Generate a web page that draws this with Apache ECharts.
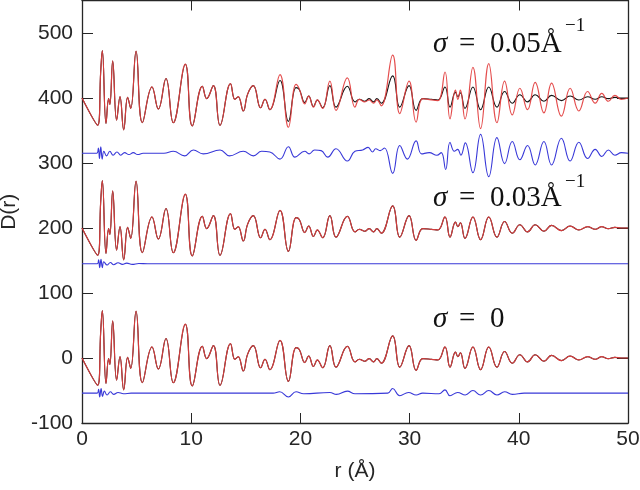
<!DOCTYPE html>
<html>
<head>
<meta charset="utf-8">
<script src="https://cdn.jsdelivr.net/npm/echarts@6/dist/echarts.min.js"></script>
<style>
html,body{margin:0;padding:0;background:#fff}
#chart{width:640px;height:490px}
</style>
</head>
<body>
<div id="chart"></div>
<script>
// turning points of the measured D(r), r in Angstrom
var rPts = [0, 1.44, 1.71, 1.86, 2.20, 2.44, 2.55, 2.81, 3.17, 3.48, 3.82, 4.18, 4.46, 4.95, 5.53, 6.41, 6.99, 7.69, 8.36, 9.46,
  10.10, 11.02, 11.42, 12.03, 12.64, 13.60, 14.00, 14.30, 14.77, 15.17, 15.69, 16.36, 16.76, 17.20, 18.13, 18.90, 19.60, 19.90,
  20.40, 20.76, 21.20, 21.55, 22.04, 22.70, 23.26, 24.30, 25.00, 25.40, 25.90, 26.30, 26.70, 27.00, 27.40, 28.45, 29.10, 29.95,
  30.60, 31.20, 32.00, 32.60, 33.24, 33.70, 34.20, 34.42, 34.65, 35.07, 35.80, 36.50, 37.25, 38.00, 38.70, 39.40,
  40.10, 40.80, 41.50, 42.30, 43.00, 43.90, 44.70, 45.50, 46.30, 47.00, 47.60, 48.20, 48.80, 49.40, 50.00];
// measured D(r) (black), relative to the offset of each panel
var dataD = [0, -42, 40, 73, -39, -1, -10, 57, -34, 2, -49, 1, -16, 72, -38, 17, -17, 30, -38, 52,
  -43, 18, -1, 19, -42, 22, -2, 2, -20, 6, 19, -15, -2, -18, 27, -36, 16, 13,
  -7, 3, -13, -3, -15, 19, -14, 18, -6, -2, -5, -1, -6, -1, -8, 34, -14, 19,
  -19, -1, -2, -3, 17, -14, 9, 2, 8, -16, 17, -18, 17, -14, 10, -8,
  5, -6, 5, -5, 4, -4, 3, -3, 2, -2, 2, -1, 1, 0, 0];
// fitted D(r) for sigma = 0.05 (red, top panel)
var fit05 = [0, -42, 40, 73, -39, -1, -10, 57, -34, 2, -49, 1, -16, 72, -38, 17, -17, 30, -38, 52,
  -43, 18, -1, 19, -42, 22, -2, 2, -20, 6, 19, -15, -2, -18, 36, -45, 21, 14,
  -9, 3, -14, -3, -16, 26, -19, 31, -14, -2, -6, -3, -8, -3, -12, 66, -24, 26,
  -37, -1, -3, -4, 40, -32, 12, -2, 12, -32, 47, -47, 53, -38, 26, -26,
  15, -18, 24, -23, 23, -28, 15, -20, 10, -8, 7, -5, 4, -2, 0];

// differences (blue)
var rDiff05 = [0, 1.35, 1.50, 1.60, 1.72, 1.85, 2.00, 2.25, 2.55, 2.85, 3.20, 3.55, 3.90, 4.30, 4.70, 5.10, 5.60, 7.50, 8.36, 9.40,
  10.20, 11.10, 12.64, 13.50, 14.77, 15.70, 16.45, 17.20, 18.13, 18.90, 19.50, 20.40, 20.80, 21.30, 21.90, 22.50, 23.26, 24.30,
  25.00, 25.70, 26.20, 26.60, 26.90, 27.30, 27.70, 28.45, 29.10, 29.80, 30.60, 31.10, 31.80, 32.50, 32.90, 33.30, 33.70, 34.10,
  34.40, 34.70, 35.10, 35.80, 36.50, 37.25, 38.00, 38.70, 39.40, 40.10, 40.80, 41.50, 42.30, 43.00, 43.90, 44.70, 45.50, 46.30,
  47.00, 47.60, 48.20, 48.80, 49.40, 50.00];
var diff05 = [315, 315, 323, 307, 325, 306, 318, 311, 318, 312, 317, 312, 316, 313, 316, 313, 315, 315, 318, 311,
  320, 314, 320, 311, 318, 311, 318, 317, 306, 325, 309, 318, 314, 320, 319, 309, 322, 303,
  318, 320, 324, 317, 322, 319, 323, 284, 327, 306, 334, 314, 316, 312, 316, 290, 332, 318,
  321, 312, 331, 285, 344, 279, 339, 299, 333, 305, 327, 297, 333, 297, 338, 303, 332, 307,
  321, 310, 320, 312, 316, 315];
var rDiff03 = [0, 1.40, 1.52, 1.62, 1.74, 1.86, 2.00, 2.30, 2.60, 2.90, 3.30, 3.70, 4.10, 4.60, 5.20, 6.00, 50.00];
var diff03 = [145, 145, 151, 139, 152, 139, 148, 143, 147, 143.5, 146.5, 144, 146, 144, 145.5, 145, 145];
var rDiff0 = [0, 1.40, 1.52, 1.62, 1.75, 1.88, 2.05, 2.30, 2.60, 2.90, 3.30, 3.80, 4.50, 17.50, 18.10, 18.90, 19.60, 20.30,
  22.70, 23.30, 24.30, 25.00, 28.00, 28.45, 29.10, 29.90, 30.60, 31.20, 32.70, 33.24, 33.70, 34.40, 35.10, 35.80, 36.50, 37.25,
  38.00, 38.70, 39.40, 40.50, 50.00];
var diff0 = [-54, -54, -48, -60, -47, -59, -51, -57, -52, -56, -53, -55, -54, -54, -52, -60, -52, -55,
  -53, -56, -51, -55, -54, -47, -58, -53, -57, -54, -55, -49, -58, -53, -57, -50, -57, -50,
  -57, -52, -56, -54, -54];

var offsets = [400, 200, 0];
var sigmaText = ['0.05Å', '0.03Å', '0'];

function pts(xs, ys, off) {
  return xs.map(function (x, i) { return [x, ys[i] + off]; });
}

var chart = echarts.init(document.getElementById('chart'));

var fits = [fit05, dataD, dataD];
var diffs = [[rDiff05, diff05], [rDiff03, diff03], [rDiff0, diff0]];
var series = [];
offsets.forEach(function (off, g) {
  series.push({ type: 'line', data: pts(rPts, dataD, off), showSymbol: false, smooth: 0.45, silent: true,
    lineStyle: { color: '#111', width: 1.1 } });
  series.push({ type: 'line', data: pts(rPts, fits[g], off), showSymbol: false, smooth: 0.45, silent: true,
    lineStyle: { color: '#e2403f', width: 1.2, opacity: 0.93 } });
  series.push({ type: 'line', data: pts(diffs[g][0], diffs[g][1], 0), showSymbol: false, smooth: 0.45, silent: true,
    lineStyle: { color: '#3838d8', width: 1.1 } });
});

var axisCol = '#262626';
var sansFont = '"Liberation Sans", Arial, sans-serif';
var serif = '"Liberation Serif", "Times New Roman", serif';

var texts = [];
[44, 198, 319].forEach(function (y, i) {
  texts.push({ type: 'text', x: 433, y: y, style: { text: 'σ', font: 'italic 29px ' + serif, fill: '#111', verticalAlign: 'middle' } });
  texts.push({ type: 'text', x: 459, y: y, style: { text: '=', font: '29px ' + serif, fill: '#111', verticalAlign: 'middle' } });
  texts.push({ type: 'text', x: 490, y: y, style: { text: sigmaText[i], font: '29px ' + serif, fill: '#111', verticalAlign: 'middle' } });
});
[26, 182].forEach(function (y) {
  texts.push({ type: 'text', x: 565, y: y, style: { text: '−1', font: '19px ' + serif, fill: '#111', verticalAlign: 'middle' } });
});

chart.setOption({
  animation: false,
  grid: { left: 82, right: 12, top: 0.5, bottom: 67, outerBoundsMode: 'none' },
  xAxis: [{
    type: 'value', min: 0, max: 50, interval: 10,
    name: 'r (Å)', nameLocation: 'middle', nameGap: 38,
    nameTextStyle: { fontSize: 21, color: axisCol, fontFamily: sansFont },
    axisLine: { onZero: false, lineStyle: { color: axisCol, width: 1.3 } },
    axisTick: { inside: true, length: 10, lineStyle: { color: axisCol } },
    axisLabel: { fontSize: 21, color: axisCol, fontFamily: sansFont, margin: 6 },
    splitLine: { show: false }
  }, {
    type: 'value', min: 0, max: 50, interval: 10, position: 'top',
    axisLine: { onZero: false, lineStyle: { color: axisCol, width: 1.3 } },
    axisTick: { inside: true, length: 10, lineStyle: { color: axisCol } },
    axisLabel: { show: false }, splitLine: { show: false }
  }],
  yAxis: [{
    type: 'value', min: -100, max: 550, interval: 100,
    name: 'D(r)', nameLocation: 'middle', nameGap: 60,
    nameTextStyle: { fontSize: 21, color: axisCol, fontFamily: sansFont },
    axisLine: { show: true, onZero: false, lineStyle: { color: axisCol, width: 1.3 } },
    axisTick: { show: true, inside: true, length: 11, lineStyle: { color: axisCol } },
    axisLabel: { fontSize: 21, color: axisCol, fontFamily: sansFont, margin: 9,
      formatter: function (v) { return v > 500 ? '' : String(v); } },
    splitLine: { show: false }
  }, {
    type: 'value', min: -100, max: 550, interval: 100, position: 'right',
    axisLine: { show: true, onZero: false, lineStyle: { color: axisCol, width: 1.3 } },
    axisTick: { show: true, inside: true, length: 11, lineStyle: { color: axisCol } },
    axisLabel: { show: false }, splitLine: { show: false }
  }],
  series: series,
  graphic: texts
});
</script>
</body>
</html>
